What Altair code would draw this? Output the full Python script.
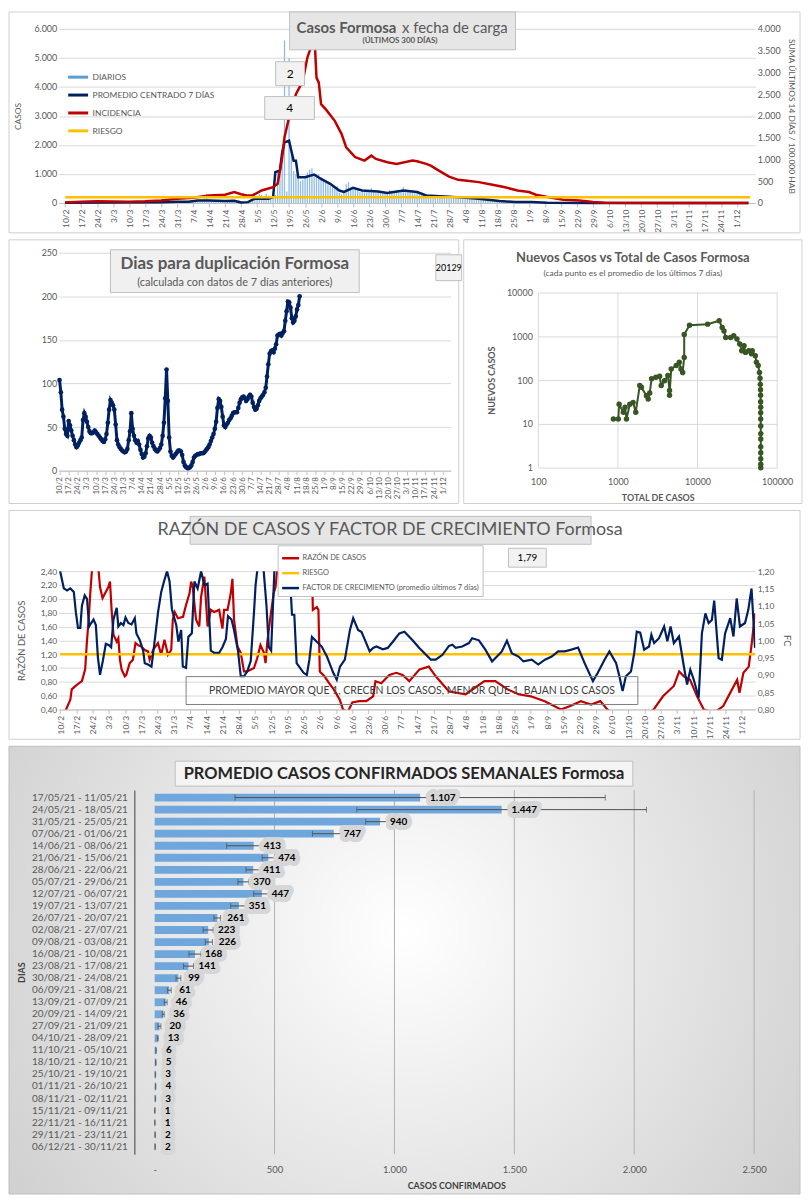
import altair as alt
import pandas as pd

FONT = "Lato"
NARROW = "'Liberation Sans Narrow', Lato"
GRIS = "#595959"
GRID = "#d9d9d9"
MARCO = "#d0d0d0"
NAVY = "#002060"
ROJO = "#c00000"
NARANJA = "#ffc000"
AZUL = "#5b9bd5"
VERDE = "#375623"
BASE = pd.Timestamp("2021-02-10")

# ---------------- Panel 1: casos diarios (desde 10/2/2021) ----------------
diarios = [
    8, 12, 5, 10, 15, 6, 9,
    14, 20, 11, 9, 18, 22, 15,
    16, 25, 12, 19, 21, 14, 18,
    22, 17, 26, 15, 20, 28, 19,
    24, 18, 30, 22, 16, 27, 21,
    25, 31, 19, 28, 34, 22, 30,
    35, 28, 40, 33, 45, 38, 42,
    48, 40, 55, 45, 38, 60, 52,
    70, 85, 60, 110, 95, 150, 320,
    120, 90, 75, 100, 85, 110, 95,
    80, 105, 90, 120, 100, 70, 85,
    40, 30, 60, 50, 120, 180, 250,
    210, 300, 280, 240, 320, 260, 180,
    220, 280, 1100, 1050, 1800, 5600, 400,
    5000, 1800, 1100, 1000, 950, 750, 800,
    850, 1050, 1150, 1200, 1000, 980, 1000,
    900, 800, 750, 650, 600, 550, 500,
    580, 350, 300, 400, 650, 720, 500,
    480, 520, 450, 380, 420, 460, 400,
    420, 500, 380, 360, 400, 350, 330,
    380, 340, 450, 420, 360, 400, 380,
    420, 550, 480, 400, 380, 350, 330,
    360, 300, 280, 260, 240, 230, 220,
    240, 200, 210, 230, 190, 220, 200,
    210, 230, 190, 180, 200, 170, 160,
    180, 150, 170, 160, 140, 150, 130,
    140, 120, 130, 110, 100, 90, 95,
    80, 75, 70, 65, 60, 55, 50,
    45, 50, 40, 38, 35, 42, 30,
    28, 25, 30, 22, 20, 18, 24,
    15, 18, 12, 14, 10, 12, 9,
    8, 10, 7, 6, 9, 5, 7,
    5, 4, 6, 3, 5, 4, 3,
    2, 3, 2, 4, 1, 2, 3,
    1, 2, 0, 1, 2, 1, 0,
    1, 0, 2, 1, 0, 1, 1,
    0, 1, 0, 2, 1, 0, 1,
    1, 0, 0, 1, 2, 0, 1,
    0, 1, 0, 0, 1, 0, 0,
    1, 0, 0, 1, 0, 0, 1,
    0, 0, 1, 0, 0, 1, 0,
    1, 0, 0, 1, 0, 1, 0,
    0, 1, 0, 1, 0, 1,
]
# (dia desde 10/2, promedio centrado 7 dias)
promedio = [(0, 5), (19, 20), (42, 30), (49, 40), (54, 40), (58, 90), (63, 90), (70, 70),
            (74, 80), (77, 20), (80, 30), (83, 150), (89, 150), (91, 206), (92, 1063),
            (94, 1120), (95, 1750), (96, 2090), (98, 2150), (99, 1800), (100, 1460),
            (101, 1460), (102, 890), (105, 890), (109, 980), (112, 830), (116, 660),
            (120, 430), (122, 380), (126, 525), (130, 430), (137, 400), (141, 345),
            (148, 430), (154, 380), (158, 260), (168, 220), (181, 150), (190, 70),
            (197, 35), (204, 35), (211, 10), (232, 3), (299, 2)]
# (dia, suma 14 dias / 100.000 hab)
incidencia = [(0, 10), (7, 30), (14, 40), (21, 35), (28, 30), (35, 40), (42, 60), (49, 100),
              (56, 120), (63, 170), (70, 190), (74, 250), (77, 200), (80, 170), (82, 174),
              (86, 288), (91, 366), (93, 441), (95, 1051), (96, 1509), (98, 1966),
              (101, 2500), (104, 2802), (106, 3338), (108, 3641), (109, 3950), (110, 2880),
              (111, 2766), (112, 2270), (114, 2156), (118, 1888), (121, 1584), (123, 1280),
              (127, 1051), (131, 974), (134, 1088), (136, 1013), (141, 937), (145, 898),
              (152, 974), (154, 960), (158, 898), (160, 860), (163, 761), (168, 608),
              (172, 532), (175, 517), (181, 480), (187, 418), (192, 366), (198, 288),
              (203, 251), (206, 190), (211, 137), (218, 75), (225, 60), (231, 23),
              (236, 5), (260, 3), (299, 2)]
riesgo_inc = 130
series_top = ["DIARIOS", "PROMEDIO CENTRADO 7 DÍAS", "INCIDENCIA", "RIESGO"]

# ---------------- Panel 2: dias para duplicacion ----------------
duplicacion = [104, 90, 70, 62, 48, 42, 40, 57, 52, 46, 40, 35, 30, 27, 29, 32, 35, 38, 58, 66,
               62, 56, 50, 45, 43, 43, 44, 46, 44, 42, 40, 38, 36, 34, 33, 36, 42, 55, 70, 81,
               78, 75, 70, 53, 35, 30, 27, 25, 23, 22, 21, 22, 25, 35, 45, 66, 48, 40, 35, 32,
               34, 30, 24, 19, 15, 16, 20, 28, 37, 40, 38, 32, 28, 25, 23, 22, 24, 26, 30, 40,
               55, 83, 116, 80, 38, 22, 17, 15, 17, 19, 21, 23, 23, 22, 18, 10, 6, 4, 3, 3,
               4, 6, 10, 15, 17, 18, 19, 19, 20, 20, 20, 21, 23, 25, 27, 30, 34, 38, 42, 48,
               56, 72, 82, 80, 73, 62, 52, 50, 53, 55, 58, 60, 63, 66, 67, 67, 67, 72, 78, 82,
               84, 85, 83, 80, 82, 85, 87, 85, 78, 73, 70, 71, 75, 80, 83, 85, 87, 90, 95, 108,
               122, 134, 137, 138, 136, 140, 145, 155, 156, 157, 155, 158, 160, 172, 183, 194,
               193, 187, 175, 170, 172, 177, 185, 190, 200]
duplicacion_actual = "20129"

# ---------------- Panel 3: nuevos casos vs total ----------------
total_casos = [877, 1010, 1035, 1170, 1230, 1280, 1410, 1550, 1675, 1880, 1970, 2280, 2400,
               2510, 2650, 3000, 3340, 3500, 3850, 4240, 4450, 4450, 4670, 5400, 5900, 6200,
               6500, 6800, 6800, 7930, 13400, 18700, 20400, 21500, 22600, 26000, 28500, 31300,
               33900, 35900, 38400, 40000, 44000, 47600, 48700, 53200, 55000, 57800, 60000,
               61000, 61500, 61900, 62000, 62100, 62200, 62200, 62200, 62300, 62300, 62300,
               62300, 62300, 62300, 62300, 62300]
nuevos_casos = [13, 13, 28, 18.5, 24, 13, 28, 31, 18.5, 75, 69, 44, 37, 51, 107, 116, 122, 75,
                97, 127, 58, 45, 180, 215, 255, 180, 150, 330, 1100, 1800, 1900, 2270, 1600,
                1330, 940, 940, 1030, 870, 670, 470, 610, 430, 470, 400, 470, 360, 255, 215,
                150, 110, 80, 60, 45, 32, 24, 18, 13, 9, 6, 4.5, 3, 2.2, 1.6, 1.2, 1]
decadas_x = [100, 1000, 10000, 100000]
decadas_y = [1, 10, 100, 1000, 10000]

# ---------------- Panel 4: razon de casos y factor de crecimiento ----------------
razon = [(0, 0.30), (2.3, 0.38), (4.4, 0.54), (5, 0.69), (7.3, 0.76), (9.4, 0.81), (10.8, 0.98),
         (11.5, 1.36), (12.3, 1.70), (13, 2.08), (13.7, 2.40), (15, 2.9), (16.6, 2.40),
         (17.2, 2.17), (18.3, 2.01), (19.4, 2.08), (20.8, 2.17), (21.5, 2.25), (22.2, 1.84),
         (23, 1.48), (24.4, 1.38), (25.1, 1.43), (25.8, 1.12), (26.5, 0.98), (27.9, 0.88),
         (28.5, 0.90), (30, 1.07), (31.4, 1.12), (32.5, 1.36), (33.6, 1.33), (35, 1.31),
         (36.5, 1.26), (37.9, 1.24), (38.6, 1.12), (40.1, 1.26), (42.2, 1.36), (43.6, 1.19),
         (45, 1.41), (46.5, 1.19), (47.9, 1.26), (48.6, 1.70), (49.4, 1.81), (50.8, 1.72),
         (53, 1.74), (54.3, 1.91), (55.8, 2.08), (56.5, 2.25), (57.2, 2.17), (58.6, 1.70),
         (60, 1.60), (60.8, 2.03), (62.2, 2.32), (63.6, 1.60), (65, 1.84), (66.4, 1.81),
         (68.6, 1.84), (70, 1.57), (70.7, 1.84), (72.2, 1.84), (73.6, 2.08), (74.3, 2.29),
         (75, 1.70), (76.5, 1.31), (77.9, 1.22), (79.3, 0.95), (80.7, 0.95), (83.6, 1.00),
         (85, 1.14), (86.4, 1.33), (87.9, 1.22), (88.6, 1.07), (89.3, 1.36), (90.7, 1.74),
         (92.1, 2.08), (92.9, 2.17), (93.6, 2.40), (96, 3.5), (100, 4.0), (105, 3.5),
         (108.5, 2.6), (109, 1.84), (110.7, 1.88), (111.4, 1.84), (112, 0.95), (114, 0.88),
         (116, 0.78), (118, 0.69), (120.6, 0.54), (122, 0.40), (124, 0.36), (126, 0.50),
         (129, 0.52), (132, 0.52), (135, 0.59), (136, 0.81), (138.5, 0.78), (142, 0.90),
         (145, 0.93), (147.7, 0.90), (150.6, 0.81), (155, 0.98), (159, 1.02), (162, 0.88),
         (167.7, 0.66), (174.9, 0.62), (183, 0.81), (187.7, 0.81), (193, 0.69), (197.7, 0.62),
         (203, 0.59), (209, 0.52), (216, 0.40), (220, 0.45), (224.6, 0.52), (229, 0.47),
         (233, 0.52), (236, 0.40), (240, 0.30), (250, 0.25), (256, 0.40), (260, 0.59),
         (264.7, 0.74), (267, 0.95), (269, 0.88), (271.7, 0.83), (274.7, 0.59), (277.6, 0.40),
         (282, 0.35), (286, 0.45), (289, 0.64), (292, 0.83), (293, 0.64), (294.7, 0.93),
         (297, 1.02), (298.3, 1.36), (299.7, 1.79)]
factor = [(0, 1.20), (1.6, 1.15), (3, 1.144), (4.4, 1.15), (5.9, 1.14), (6.8, 1.08), (7.7, 1.036),
          (8.7, 1.036), (9.4, 1.10), (10.6, 1.13), (11.6, 1.12), (12.5, 1.04), (13.4, 1.05),
          (14.4, 1.06), (15.4, 1.044), (16.3, 0.95), (17.2, 0.90), (18.4, 0.94), (19.7, 0.99),
          (21.1, 0.986), (22, 0.98), (23, 1.06), (24.4, 1.094), (25.1, 1.04), (26.2, 1.05),
          (27.3, 1.044), (28.2, 1.066), (29.4, 1.05), (30.8, 1.046), (32.2, 1.064), (32.9, 1.02),
          (34.4, 1.00), (35.8, 0.97), (36.5, 0.934), (37.9, 0.93), (39.4, 0.924), (40.8, 1.00),
          (42.2, 1.08), (43.6, 1.14), (44.8, 1.17), (46.1, 1.20), (47.2, 1.17), (48.2, 1.09),
          (50.1, 1.044), (51, 0.996), (52.2, 1.03), (52.9, 0.924), (54.3, 0.92), (55.3, 1.01),
          (56.8, 1.02), (57.9, 1.17), (59.3, 1.15), (60.8, 1.20), (62.2, 1.16), (63.6, 1.164),
          (65, 0.97), (66.4, 0.964), (68.6, 0.964), (70, 0.98), (71.5, 1.004), (72.4, 1.07),
          (73.9, 1.06), (75, 1.03), (76.7, 0.97), (77.9, 0.896), (79.3, 0.896), (80.7, 0.91),
          (82.2, 0.94), (83.6, 1.08), (84.3, 1.16), (85, 1.20), (86.5, 1.24), (87.8, 1.20),
          (89, 1.10), (90, 0.98), (91, 0.97), (92.4, 1.20), (95, 1.26), (99, 1.20),
          (100, 1.074), (101, 1.074), (102, 0.934), (105, 0.906), (106.4, 0.90), (107.5, 0.944),
          (108.6, 1.01), (110.7, 0.996), (112.8, 0.982), (115, 0.954), (117.8, 0.906),
          (119.3, 0.886), (120.7, 0.924), (122.8, 0.944), (125, 1.03), (126.4, 1.064),
          (128.5, 1.03), (130, 1.024), (131.4, 1.002), (133.5, 0.968), (135, 0.978),
          (136.4, 0.982), (139.2, 0.974), (141.3, 0.978), (143.5, 0.996), (146.3, 1.02),
          (148.5, 1.025), (152, 1.00), (154.9, 0.978), (157.8, 0.958), (159.9, 0.944),
          (162, 0.944), (164.9, 0.958), (167.7, 0.984), (169.2, 0.987), (170.6, 0.978),
          (173.4, 0.982), (176.3, 0.992), (177.7, 1.006), (180.6, 1.00), (183.4, 0.973),
          (186.3, 0.939), (188.4, 0.953), (190.5, 0.968), (192.7, 0.999), (194.8, 0.963),
          (197.7, 0.953), (199.8, 0.939), (203.4, 0.944), (206.2, 0.93), (209.1, 0.944),
          (212, 0.953), (214.8, 0.968), (217.7, 0.968), (220.5, 0.973), (223.4, 0.979),
          (226.2, 0.934), (229.8, 0.882), (231.9, 0.906), (234.8, 0.944), (236.9, 0.968),
          (239.8, 0.934), (241.2, 0.896), (242.6, 0.853), (244, 0.896), (246.2, 0.91),
          (247.6, 0.963), (248.7, 1.025), (250.2, 1.022), (251.9, 0.973), (254, 0.982),
          (255, 1.016), (256.2, 0.992), (258.3, 1.006), (260.5, 1.04), (261.9, 0.997),
          (263.3, 1.04), (264.7, 0.992), (266.9, 1.011), (269, 0.925), (270.4, 0.872),
          (271.8, 0.915), (273.3, 0.886), (275.4, 0.834), (276.8, 1.02), (278.3, 1.078),
          (279.7, 1.05), (281.1, 1.059), (282.1, 1.115), (284, 0.949), (285.4, 0.944),
          (286.8, 1.02), (289, 1.064), (290.4, 1.011), (291.8, 1.121), (293.2, 1.04),
          (295.4, 1.05), (296.8, 1.088), (298.2, 1.15), (299.7, 0.978)]
riesgo_razon = 1.20
ultimo_razon = "1,79"
series_fc = ["RAZÓN DE CASOS", "RIESGO", "FACTOR DE CRECIMIENTO (promedio últimos 7 días)"]

# ---------------- Panel 5: promedio semanal ----------------
semanas = ["17/05/21 - 11/05/21", "24/05/21 - 18/05/21", "31/05/21 - 25/05/21", "07/06/21 - 01/06/21",
           "14/06/21 - 08/06/21", "21/06/21 - 15/06/21", "28/06/21 - 22/06/21", "05/07/21 - 29/06/21",
           "12/07/21 - 06/07/21", "19/07/21 - 13/07/21", "26/07/21 - 20/07/21", "02/08/21 - 27/07/21",
           "09/08/21 - 03/08/21", "16/08/21 - 10/08/21", "23/08/21 - 17/08/21", "30/08/21 - 24/08/21",
           "06/09/21 - 31/08/21", "13/09/21 - 07/09/21", "20/09/21 - 14/09/21", "27/09/21 - 21/09/21",
           "04/10/21 - 28/09/21", "11/10/21 - 05/10/21", "18/10/21 - 12/10/21", "25/10/21 - 19/10/21",
           "01/11/21 - 26/10/21", "08/11/21 - 02/11/21", "15/11/21 - 09/11/21", "22/11/21 - 16/11/21",
           "29/11/21 - 23/11/21", "06/12/21 - 30/11/21"]
promedio_semanal = [1107, 1447, 940, 747, 413, 474, 411, 370, 447, 351, 261, 223, 226, 168, 141, 99,
                    61, 46, 36, 20, 13, 6, 5, 3, 4, 3, 1, 1, 2, 2]
error_semanal = [772, 604, 60, 89, 113, 26, 30, 23, 34, 34, 14, 21, 15, 25, 21, 10, 8, 6, 4, 6,
                 2, 1, 1, 1, 1, 1, 1, 1, 1, 1]
ticks_semanal = [0, 500, 1000, 1500, 2000, 2500]

# ======================================================================
MILES = "replace(format(datum.value, ','), ',', '.')"
DEC2 = "replace(format(datum.value, '.2f'), '.', ',')"
UNO = pd.DataFrame({"k": [0]})


def fechas(dias):
    return [BASE + pd.Timedelta(days=float(d)) for d in dias]


def dt(d):
    t = BASE + pd.Timedelta(days=float(d))
    return alt.DateTime(year=t.year, month=t.month, date=t.day, hours=t.hour, minutes=t.minute)


def eje_fechas(size):
    return alt.Axis(values=[dt(7 * i) for i in range(43)], format="%-d/%-m", labelAngle=270,
                    labelFontSize=size, labelColor=GRIS, labelFont=FONT, grid=False, title=None,
                    tickColor="#bfbfbf", tickSize=4, domainColor="#bfbfbf", labelPadding=2,
                    labelOverlap=False, labelFlush=False)


def x_fechas(size):
    return alt.X("fecha:T", scale=alt.Scale(domain=[dt(-0.6), dt(299.8)]), axis=eje_fechas(size))


def caja(x1, x2, y1, y2, fill="#eeeeee", stroke="#bfbfbf"):
    return alt.Chart(UNO).mark_rect(fill=fill, stroke=stroke, strokeWidth=1).encode(
        x=alt.value(x1), x2=alt.value(x2), y=alt.value(y1), y2=alt.value(y2))


def marco(x1, x2, y1, y2):
    return caja(x1, x2, y1, y2, fill="transparent", stroke=MARCO)


def texto(t, x, y, size, bold=False, align="center", color=GRIS, font=FONT):
    return alt.Chart(UNO).mark_text(text=t, fontSize=size, fontWeight="bold" if bold else "normal",
                                    align=align, baseline="middle", color=color, font=font).encode(
        x=alt.value(x), y=alt.value(y))


def pares(lst, a, b):
    return pd.DataFrame({a: [p[0] for p in lst], b: [p[1] for p in lst]})


# ---------------- Row 1 ----------------
W1, H1 = 700, 175
col_top = alt.Color("serie1:N", scale=alt.Scale(domain=series_top, range=[AZUL, NAVY, ROJO, NARANJA]),
                    legend=alt.Legend(orient="none", legendX=8, legendY=37, title=None,
                                      symbolType="stroke", symbolStrokeWidth=3, symbolSize=400,
                                      labelFontSize=8.5, labelColor=GRIS, labelFont=FONT,
                                      rowPadding=-2, padding=0, labelOffset=3))
X1 = x_fechas(8.5)
Y1 = alt.Y("valor:Q", scale=alt.Scale(domain=[0, 6000]),
           axis=alt.Axis(values=list(range(0, 6001, 1000)), labelExpr=MILES, title="CASOS",
                         titleFontSize=8.5, titleFontWeight="normal", titleColor=GRIS, titlePadding=11,
                         labelColor=GRIS, labelFontSize=9, gridColor=GRID, domain=False, ticks=False))
Y1r = alt.Y("valor:Q", scale=alt.Scale(domain=[0, 4000]),
            axis=alt.Axis(orient="right", values=list(range(0, 4001, 500)), labelExpr=MILES,
                          title="SUMA  ÚLTIMOS 14 DÍAS / 100.000 HAB", titleFontSize=8.5,
                          titleFontWeight="normal", titleColor=GRIS, titlePadding=6,
                          labelColor=GRIS, labelFontSize=9, grid=False, domain=False, ticks=False))

df_d = pd.DataFrame({"fecha": fechas(range(len(diarios))), "valor": diarios})
df_p = pares(promedio, "dia", "valor"); df_p["fecha"] = fechas(df_p["dia"]); df_p["serie1"] = series_top[1]
df_i = pares(incidencia, "dia", "valor"); df_i["fecha"] = fechas(df_i["dia"]); df_i["serie1"] = series_top[2]
df_r = pd.DataFrame({"fecha": fechas([0, 299.7]), "valor": [riesgo_inc, riesgo_inc], "serie1": series_top[3]})

barras = alt.Chart(df_d).mark_bar(color="#8fbbe6", size=1.3).encode(x=X1, y=Y1)
l_prom = alt.Chart(df_p).mark_line(strokeWidth=2.5).encode(x=X1, y=Y1, color=col_top)
l_inc = alt.Chart(df_i).mark_line(strokeWidth=2.5).encode(x=X1, y=Y1r, color=col_top)
l_rie = alt.Chart(df_r).mark_line(strokeWidth=2.5).encode(x=X1, y=Y1r, color=col_top)

annos1 = [
    marco(-50, 745, -17, 205),
    caja(232, 459, -17, 21, fill="#e7e6e6"),
    texto("Casos Formosa", 239, -1, 15, bold=True, align="left"),
    texto("x fecha de carga", 345, -1, 15, align="left"),
    texto("(ÚLTIMOS 300 DÍAS)", 343, 12, 8, bold=True),
    caja(218, 247, 33, 57, fill="#f2f2f2"),
    texto("2", 232.5, 45, 12, color="#000000"),
    caja(207, 257, 68, 91, fill="#f2f2f2"),
    texto("4", 232, 79.5, 12, color="#000000"),
]
row1 = alt.layer(alt.layer(barras, l_prom), alt.layer(l_inc, l_rie), *annos1).resolve_scale(
    y="independent").properties(width=W1, height=H1)

# ---------------- Row 2 left ----------------
H2 = 219
df_dup = pd.DataFrame({"fecha": fechas(range(len(duplicacion))), "dias": duplicacion})
dup = alt.Chart(df_dup).mark_line(color=NAVY, strokeWidth=3,
                                  point=alt.OverlayMarkDef(color=NAVY, filled=True, size=22)).encode(
    x=x_fechas(8),
    y=alt.Y("dias:Q", scale=alt.Scale(domain=[0, 250]),
            axis=alt.Axis(values=[0, 50, 100, 150, 200, 250], title=None, labelColor=GRIS,
                          labelFontSize=9, gridColor=GRID, domain=False, ticks=False)))
annos2 = [
    marco(-50, 402, -13, 252),
    caja(52, 302, -3, 40, fill="#f0f0f0"),
    texto("Dias para duplicación Formosa", 177, 11, 17, bold=True),
    texto("(calculada con datos de 7 días anteriores)", 177, 30, 11),
    caja(379, 405, 2, 28, fill="#f2f2f2"),
    texto(duplicacion_actual, 392, 15, 9, color="#000000"),
]
left2 = alt.layer(dup, *annos2).properties(width=394, height=H2)

# ---------------- Row 2 right ----------------
df_sc = pd.DataFrame({"total": total_casos, "nuevos": nuevos_casos})
df_sc["orden"] = range(len(df_sc))
XS = alt.X("total:Q", scale=alt.Scale(type="log", domain=[100, 100000]),
           axis=alt.Axis(values=decadas_x, format="d", title="TOTAL DE CASOS",
                         titleFontSize=9, titleColor=GRIS, titleFontWeight="bold", labelColor=GRIS,
                         labelFontSize=9, grid=False, domain=False, ticks=False,
                         labelFlush=False, labelPadding=7, titlePadding=7))
YS = alt.Y("nuevos:Q", scale=alt.Scale(type="log", domain=[1, 10000], range=[216, 40]),
           axis=alt.Axis(values=decadas_y, format="d", title="NUEVOS CASOS", titleY=128,
                         titleFontSize=9, titleColor=GRIS, titleFontWeight="bold", labelColor=GRIS,
                         labelFontSize=9, gridColor=GRID, domain=False, ticks=False,
                         titlePadding=10, labelPadding=6))
df_gx = pd.DataFrame({"total": decadas_x, "nuevos": [1] * 4, "tope": [10000] * 4})
grid_x = alt.Chart(df_gx).mark_rule(color=GRID, strokeWidth=1).encode(
    x=XS, y=YS, y2="tope:Q")
sc = alt.Chart(df_sc).mark_line(color=VERDE, strokeWidth=2,
                                point=alt.OverlayMarkDef(color=VERDE, filled=True, size=30)).encode(
    x=XS, y=YS, order="orden:Q")
annos3 = [
    marco(-75, 265, -13, 252),
    texto("Nuevos Casos vs Total de Casos Formosa", 95, 5, 13, bold=True),
    texto("(cada punto es el promedio de los últimos 7 días)", 95, 20, 8.5),
]
right2 = alt.layer(grid_x, sc, *annos3).properties(width=240, height=H2)

row2 = alt.hconcat(left2, right2, spacing=0)

# ---------------- Row 3 ----------------
W3, H3 = 700, 139
col_fc = alt.Color("serie3:N", scale=alt.Scale(domain=series_fc, range=[ROJO, NARANJA, NAVY]),
                   legend=alt.Legend(orient="none", legendX=220, legendY=-26, title=None,
                                     fillColor="white", strokeColor="#bfbfbf", padding=3,
                                     symbolType="stroke", symbolStrokeWidth=2.5, symbolSize=289,
                                     labelFontSize=7.5, labelColor=GRIS, labelFont=FONT,
                                     labelLimit=260, rowPadding=0, labelOffset=2))
X3 = x_fechas(8.5)
Y3 = alt.Y("valor:Q", scale=alt.Scale(domain=[0.4, 2.4]),
           axis=alt.Axis(values=[round(0.4 + 0.2 * i, 2) for i in range(11)], labelExpr=DEC2,
                         title="RAZÓN DE CASOS", titleFontSize=9.5, titleFontWeight="normal",
                         titleColor=GRIS, titlePadding=14, labelColor=GRIS, labelFontSize=8.5,
                         gridColor=GRID, domain=False, ticks=False))
Y3r = alt.Y("valor:Q", scale=alt.Scale(domain=[0.8, 1.2]),
            axis=alt.Axis(orient="right", values=[round(0.8 + 0.05 * i, 2) for i in range(9)],
                          labelExpr=DEC2, title="FC", titleFontSize=9.5, titleFontWeight="normal",
                          titleColor=GRIS, titlePadding=8, labelColor=GRIS, labelFontSize=8.5,
                          grid=False, domain=False, ticks=False))
df_rz = pares(razon, "dia", "valor"); df_rz["fecha"] = fechas(df_rz["dia"]); df_rz["serie3"] = series_fc[0]
df_rr = pd.DataFrame({"fecha": fechas([0, 299.7]), "valor": [riesgo_razon, riesgo_razon], "serie3": series_fc[1]})
df_fc = pares(factor, "dia", "valor"); df_fc["fecha"] = fechas(df_fc["dia"]); df_fc["serie3"] = series_fc[2]

l_rz = alt.Chart(df_rz).mark_line(strokeWidth=2.2, clip=True).encode(x=X3, y=Y3, color=col_fc)
l_rr = alt.Chart(df_rr).mark_line(strokeWidth=2.5, clip=True).encode(x=X3, y=Y3, color=col_fc)
l_fc = alt.Chart(df_fc).mark_line(strokeWidth=2.2, clip=True).encode(x=X3, y=Y3r, color=col_fc)
annos4 = [
    marco(-50, 745, -61, 169),
    caja(132, 535, -55, -27, fill="#e7e6e6"),
    texto("RAZÓN DE CASOS Y FACTOR DE CRECIMIENTO Formosa", 333, -41, 18),
    caja(452, 490, -23, -4, fill="#f2f2f2"),
    texto(ultimo_razon, 471, -13.5, 10, color="#000000"),
    caja(128, 582, 106, 134, fill="transparent", stroke="#7f7f7f"),
    texto("PROMEDIO MAYOR QUE 1, CRECEN LOS CASOS, MENOR QUE 1, BAJAN LOS CASOS", 355, 120, 10.5,
          color="#404040"),
]
row3 = alt.layer(alt.layer(l_rz, l_rr), l_fc, *annos4).resolve_scale(y="independent").properties(
    width=W3, height=H3)

# ---------------- Row 4 ----------------
W4, H4 = 723, 366
CERO = 76  # px del borde del area hasta el cero del eje
x_min = -CERO * 2500 / (W4 - CERO)
df_s = pd.DataFrame({"semana": semanas, "promedio": promedio_semanal, "error": error_semanal})
df_s["lo"] = (df_s["promedio"] - df_s["error"]).clip(lower=0)
df_s["hi"] = df_s["promedio"] + df_s["error"]
df_s["etiqueta"] = [f"{v:,}".replace(",", ".") for v in df_s["promedio"]]

Y4 = alt.Y("semana:N", sort=semanas, scale=alt.Scale(paddingInner=0.35, paddingOuter=0.3),
           axis=alt.Axis(title="DIAS", titleFontSize=9, titleFontWeight="bold", titleColor="#404040",
                         titleFont=FONT, titleX=-108, offset=-CERO, zindex=2, ticks=False,
                         domainColor="#404040", labelFontSize=10, labelColor=GRIS, labelFont=NARROW,
                         labelPadding=7))
X4 = alt.X("promedio:Q", scale=alt.Scale(domain=[x_min, 2500]),
           axis=alt.Axis(values=ticks_semanal, labelExpr="datum.value == 0 ? '-' : " + MILES,
                         title="CASOS CONFIRMADOS", titleFontSize=9, titleFontWeight="bold",
                         titleColor="#404040", titleFont=NARROW, titleX=CERO + (W4 - CERO) / 2,
                         labelFont=NARROW, labelFontSize=9.5, labelColor=GRIS, grid=False,
                         domain=False, ticks=False, labelPadding=10, titlePadding=8,
                         labelFlush=False, zindex=2))
fondo = alt.Chart(UNO).mark_rect(
    fill=alt.RadialGradient(gradient="radial", x1=0.5, y1=0.45, r1=0, x2=0.5, y2=0.45, r2=0.75,
                            stops=[alt.GradientStop(color="#ffffff", offset=0),
                                   alt.GradientStop(color="#c4c4c4", offset=1)]),
    stroke="#bfbfbf").encode(x=alt.value(-50), x2=alt.value(745), y=alt.value(-44),
                             y2=alt.value(H4 + 40))
df_g4 = pd.DataFrame({"promedio": ticks_semanal[1:]})
g4 = alt.Chart(df_g4).mark_rule(color="#b0b0b0", strokeWidth=1).encode(
    x=X4, y=alt.value(0), y2=alt.value(H4))
b4 = alt.Chart(df_s).mark_bar(color="#6fa6dc").encode(x=X4, y=Y4)
e4 = alt.Chart(df_s).mark_rule(color="#505050", strokeWidth=1).encode(x="lo:Q", x2="hi:Q", y=Y4)
c4a = alt.Chart(df_s).mark_tick(color="#505050", thickness=1, size=6).encode(x="lo:Q", y=Y4)
c4b = alt.Chart(df_s).mark_tick(color="#505050", thickness=1, size=6).encode(x="hi:Q", y=Y4)
t4bg = alt.Chart(df_s).mark_text(align="left", dx=10, fontSize=10, fontWeight="bold", font=NARROW,
                                 stroke="#d6d6d6", strokeWidth=10, strokeJoin="round",
                                 fill="#d6d6d6").encode(x="promedio:Q", y=Y4, text="etiqueta:N")
t4 = alt.Chart(df_s).mark_text(align="left", dx=10, fontSize=10, fontWeight="bold", font=NARROW,
                               color="#000000").encode(x="promedio:Q", y=Y4, text="etiqueta:N")
annos5 = [
    caja(117, 577, -29, -4, fill="#f4f4f4"),
    texto("PROMEDIO CASOS CONFIRMADOS SEMANALES Formosa", 347, -16, 16.5, bold=True,
          color="#262626", font=NARROW),
]
row4 = alt.layer(fondo, g4, b4, e4, c4a, c4b, t4bg, t4, *annos5).properties(width=W4, height=H4)

chart = alt.vconcat(row1, row2, row3, row4, spacing=5, padding=0).resolve_scale(
    color="independent").resolve_legend(color="independent").configure(
    font=FONT).configure_view(stroke=None)

chart.save("out.html", embed_options={"renderer": "svg", "actions": False})
